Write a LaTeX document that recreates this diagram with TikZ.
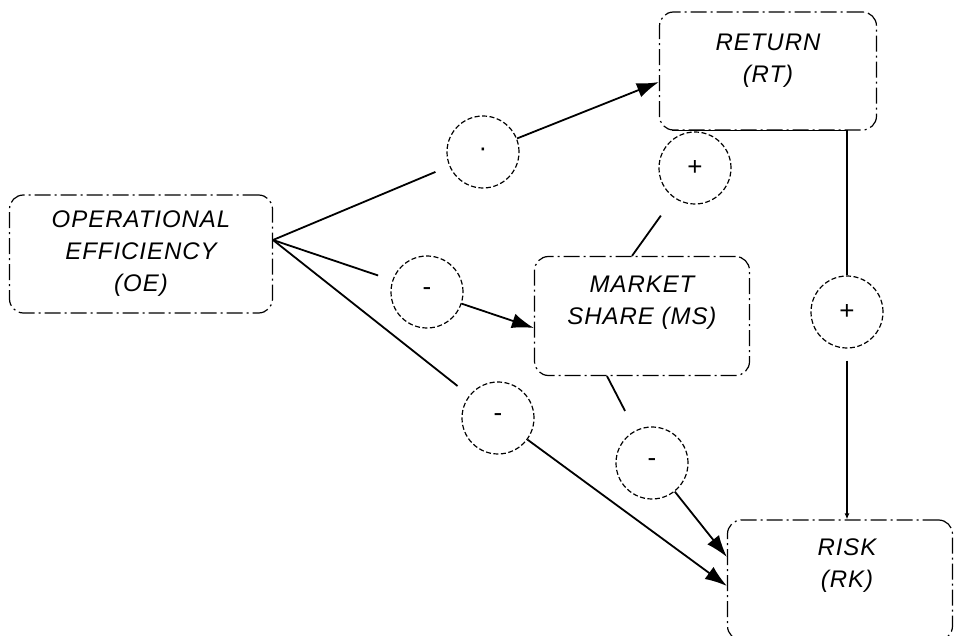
\documentclass[tikz,border=0pt]{standalone}
\usepackage{fontspec}
\setmainfont{Liberation Sans}
\newfontfamily\lab[LetterSpace=4]{Liberation Sans}
\usetikzlibrary{arrows.meta,calc}
\begin{document}
\begin{tikzpicture}[x=1pt,y=-1pt,
  box/.style={draw, rounded corners=14pt, line width=1.2pt, dash pattern=on 16pt off 4pt on 2pt off 4pt, inner sep=0pt},
  lbl/.style={align=center, font=\lab\itshape\fontsize{24}{32}\selectfont},
  sign/.style={draw, circle, minimum size=72pt, inner sep=0pt, line width=1.2pt, dash pattern=on 5pt off 2.5pt, font=\fontsize{26}{26}\selectfont},
  link/.style={line width=1.8pt},
  into/.style={link, shorten >=15pt},
  arr/.style={link, -{Latex[length=22pt,width=15pt]}},
]
\useasboundingbox (0,0) rectangle (954,636);
\clip (0,0) rectangle (954,636);
% boxes
\node[box, lbl, minimum width=263pt, minimum height=118pt] (OE) at (141,254) {OPERATIONAL\\EFFICIENCY\\(OE)};
\node[box, minimum width=217pt, minimum height=118pt] (RT) at (768,71) {};
\node[lbl] (RTt) at (768,61) {RETURN\\(RT)};
\node[box, minimum width=215pt, minimum height=119pt] (MS) at (642,316) {};
\node[lbl] (MSt) at (642,303) {MARKET\\SHARE (MS)};
\node[box, minimum width=225pt, minimum height=120pt] (RK) at (840,580) {};
\node[lbl] (RKt) at (847,566) {RISK\\(RK)};
% sign circles
\node[sign] (c1) at (483,152) {·};
\node[sign] (c2) at (695,168) {+};
\node[sign] (c3) at (427,292) {-};
\node[sign] (c4) at (847,312) {+};
\node[sign] (c5) at (498,418) {-};
\node[sign] (c6) at (652,463) {-};
% connectors
\coordinate (oeout) at (273,240);
\draw[into] (oeout) -- (c1);
\draw[into] (oeout) -- (c3);
\draw[into] (oeout) -- (c5);
\draw[arr] (c1) -- ([yshift=-11pt]RT.west);
\draw[arr] (c3) -- ([yshift=-12pt]MS.west);
\draw[arr] (c5) -- ([yshift=-6pt]RK.west);
\draw[arr] (c6) -- ([yshift=23pt]RK.west);
\draw[into, shorten >=22pt] ([xshift=-10pt]MS.north) -- (c2);
\draw[into, shorten >=22pt] ([xshift=-35pt]MS.south) -- (c6);
\draw[link] ([xshift=13pt]RT.south west) -- (RT.south west -| c4) -- (c4.north);
\draw[link, shorten <=12pt, -{Latex[length=6pt,width=5pt]}] (c4) -- (c4 |- RK.north);
\end{tikzpicture}
\end{document}
